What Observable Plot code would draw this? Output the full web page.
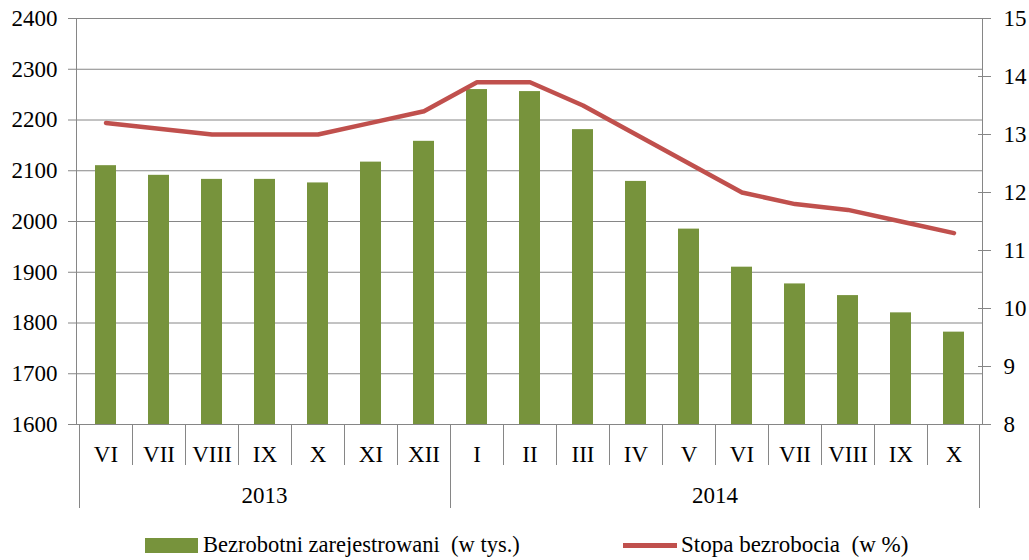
<!DOCTYPE html>
<html>
<head>
<meta charset="utf-8">
<script src="https://cdn.jsdelivr.net/npm/d3@7"></script>
<script src="https://cdn.jsdelivr.net/npm/@observablehq/plot@0.6"></script>
<style>
  body { margin: 0; background: #fff; font-family: "Liberation Serif", "Tinos", "DejaVu Serif", serif; }
  #legend { position: relative; width: 1029px; height: 40px; font-size: 23px; color: #000; }
  #legend .sw { position: absolute; }
  #legend .lbl { position: absolute; top: 12px; line-height: 26px; white-space: pre; }
  svg text { font-family: "Liberation Serif", "Tinos", "DejaVu Serif", serif !important; }
</style>
</head>
<body>
<div id="chart"></div>
<div id="legend">
  <div class="sw" style="left:145px;top:18px;width:53px;height:15px;background:#77933C"></div>
  <div class="lbl" style="left:203px;font-size:22.5px">Bezrobotni zarejestrowani  (w tys.)</div>
  <div class="sw" style="left:623px;top:23px;width:54px;height:5px;background:#C0504D"></div>
  <div class="lbl" style="left:681px">Stopa bezrobocia  (w %)</div>
</div>
<script>
// ---- data ----
const months = ["VI","VII","VIII","IX","X","XI","XII","I","II","III","IV","V","VI","VII","VIII","IX","X"];
const yearOf = ["2013","2013","2013","2013","2013","2013","2013","2014","2014","2014","2014","2014","2014","2014","2014","2014","2014"];
const years = ["2013","2014"];
const unemployed = [2110, 2091, 2083, 2083, 2076, 2117, 2158, 2260, 2256, 2181, 2079, 1985, 1910, 1877, 1854, 1820, 1782];
const rate = [13.2, 13.1, 13.0, 13.0, 13.0, 13.2, 13.4, 13.9, 13.9, 13.5, 13.0, 12.5, 12.0, 11.8, 11.7, 11.5, 11.3];
const leftTicks = [1600, 1700, 1800, 1900, 2000, 2100, 2200, 2300, 2400];
const rightTicks = [8, 9, 10, 11, 12, 13, 14, 15];

// ---- derived ----
const keys = months.map((m, i) => yearOf[i] + "-" + m);
const rateToLeft = d3.scaleLinear([8, 15], [1600, 2400]);
const rows = keys.map((k, i) => ({key: k, month: months[i], year: yearOf[i], value: unemployed[i], rate: rate[i], rateY: rateToLeft(rate[i])}));
const monthOfKey = new Map(keys.map((k, i) => [k, months[i]]));

const GRID = "#868686";
const FONT = "'Liberation Serif', Tinos, 'DejaVu Serif', serif";

function lowerAxis(index, scales, values, dims) {
  const x = scales.x, bw = x.bandwidth();
  const bottom = dims.height - dims.marginBottom;
  const g = d3.create("svg:g");
  const lines = g.append("g").attr("stroke", GRID).attr("stroke-width", 1);
  keys.forEach((k, i) => {
    const xs = Math.round(x(k)) + 0.5;
    const yearStart = i === 0 || yearOf[i] !== yearOf[i - 1];
    lines.append("line").attr("x1", xs).attr("x2", xs).attr("y1", bottom).attr("y2", bottom + (yearStart ? 84 : 41));
  });
  const xe = Math.round(x(keys[keys.length - 1]) + bw) - 0.5;
  lines.append("line").attr("x1", xe).attr("x2", xe).attr("y1", bottom).attr("y2", bottom + 84);
  years.forEach(yr => {
    const ks = keys.filter((k, i) => yearOf[i] === yr);
    const cx = (x(ks[0]) + x(ks[ks.length - 1]) + bw) / 2;
    g.append("text").attr("x", cx).attr("y", bottom + 79).attr("text-anchor", "middle")
      .attr("fill", "#000").attr("font-size", 23).text(yr);
  });
  return g.node();
}

const chart = Plot.plot({
  width: 1029,
  height: 520,
  marginTop: 18,
  marginLeft: 76,
  marginRight: 47,
  marginBottom: 96,
  style: {fontFamily: FONT, fontSize: "23px", color: "#000", background: "#fff"},
  x: {type: "band", domain: keys, padding: 0, axis: null},
  y: {domain: [1600, 2400], axis: null},
  marks: [
    Plot.gridY(leftTicks, {stroke: GRID, strokeOpacity: 1, strokeWidth: 1}),
    Plot.barY(rows, {x: "key", y1: 1600, y2: "value", fill: "#77933C", insetLeft: 16, insetRight: 16}),
    Plot.frame({stroke: GRID, strokeWidth: 1}),
    Plot.line(rows, {x: "key", y: "rateY", stroke: "#C0504D", strokeWidth: 4.5, strokeLinejoin: "round", strokeLinecap: "round"}),
    Plot.axisY(leftTicks, {anchor: "left", tickSize: 8, tickPadding: 11, stroke: GRID, fontSize: 23, label: null,
      tickFormat: d => String(d)}),
    Plot.axisY(rightTicks.map(rateToLeft), {anchor: "right", tickSize: 8, tickPadding: 13, stroke: GRID, fontSize: 23, label: null,
      tickFormat: d => String(Math.round(rateToLeft.invert(d)))}),
    Plot.axisY(rightTicks.map(rateToLeft), {anchor: "right", tickSize: -5, stroke: GRID, label: null, tickFormat: () => ""}),
    Plot.axisX(keys, {anchor: "bottom", tickSize: 0, tickPadding: 21, fontSize: 23, label: null,
      tickFormat: k => monthOfKey.get(k)}),
    lowerAxis
  ]
});
document.getElementById("chart").appendChild(chart);
</script>
</body>
</html>
